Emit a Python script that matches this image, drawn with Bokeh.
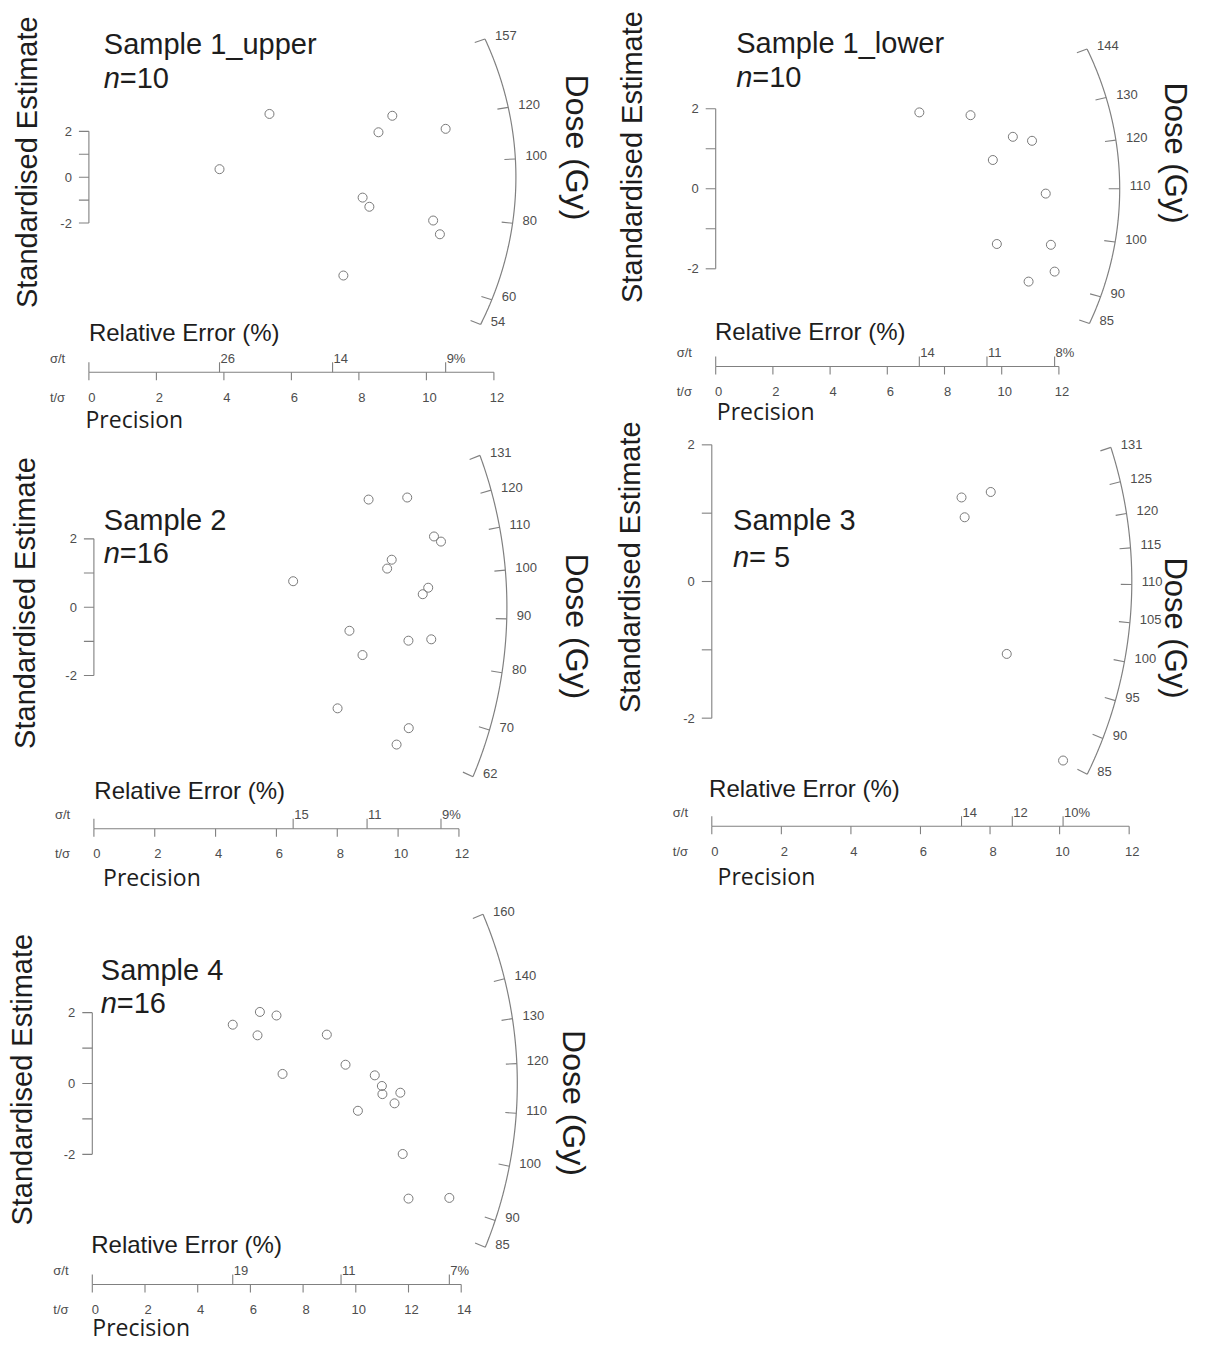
import numpy as np
from bokeh.plotting import figure
from bokeh.models import Range1d
from bokeh.core.properties import value
from bokeh.embed import file_html
from bokeh.resources import INLINE

# ---------------- data ----------------
sample_names = ["Sample 1_upper", "Sample 1_lower", "Sample 2", "Sample 3", "Sample 4"]
n_labels = ["=10", "=10", "=16", "= 5", "=16"]

s1u_precision = [3.87, 5.35, 8.58, 8.99, 10.57, 8.11, 8.31, 10.20, 10.40, 7.54]
s1u_std_est = [0.35, 2.76, 1.96, 2.68, 2.11, -0.89, -1.29, -1.89, -2.49, -4.29]
s1u_dose_ticks = [54, 60, 80, 100, 120, 157]
s1u_central_dose = 93.9
s1u_rel_err_labels = ["26", "14", "9%"]

s1l_precision = [7.12, 8.91, 10.39, 11.06, 9.69, 11.54, 9.83, 11.72, 11.85, 10.94]
s1l_std_est = [1.91, 1.84, 1.30, 1.20, 0.72, -0.12, -1.38, -1.40, -2.07, -2.32]
s1l_dose_ticks = [85, 90, 100, 110, 120, 130, 144]
s1l_central_dose = 110.0
s1l_rel_err_labels = ["14", "11", "8%"]

s2_precision = [9.03, 10.30, 11.18, 11.41, 9.79, 9.64, 6.55, 10.99, 10.81, 8.40,
                10.34, 11.09, 8.83, 8.01, 10.35, 9.95]
s2_std_est = [3.15, 3.21, 2.07, 1.92, 1.39, 1.13, 0.76, 0.57, 0.38, -0.69,
              -0.98, -0.94, -1.40, -2.96, -3.54, -4.02]
s2_dose_ticks = [62, 70, 80, 90, 100, 110, 120, 131]
s2_central_dose = 92.3
s2_rel_err_labels = ["15", "11", "9%"]

s3_precision = [7.18, 8.02, 7.27, 8.48, 10.10]
s3_std_est = [1.23, 1.31, 0.94, -1.06, -2.62]
s3_dose_ticks = [85, 90, 95, 100, 105, 110, 115, 120, 125, 131]
s3_central_dose = 110.4
s3_rel_err_labels = ["14", "12", "10%"]

s4_precision = [5.33, 6.36, 6.99, 6.27, 8.90, 7.22, 9.61, 10.72, 10.99, 11.01,
                11.69, 11.47, 10.08, 11.78, 12.00, 13.55]
s4_std_est = [1.66, 2.02, 1.92, 1.36, 1.38, 0.27, 0.53, 0.23, -0.07, -0.30,
              -0.26, -0.56, -0.77, -1.99, -3.25, -3.23]
s4_dose_ticks = [85, 90, 100, 110, 120, 130, 140, 160]
s4_central_dose = 115.9
s4_rel_err_labels = ["19", "11", "7%"]

precision_ticks_12 = [0, 2, 4, 6, 8, 10, 12]
precision_ticks_14 = [0, 2, 4, 6, 8, 10, 12, 14]
std_est_ticks = [-2, -1, 0, 1, 2]

# ---------------- layout (picture pixels; text positions are visual centres) ----------------
W, H = 1192, 1342
PX0, PY0 = 0, 0

LAYOUT = {
    "A": dict(Xo=88.4, Yo=176.7, sx=33.75, sz=22.92, Rx=427, Ry=370, axisY=371.7,
              title=(103.3, 43.9), n=(103.3, 77.9), ylab=(26.8, 161.7),
              dlab=(576.0, 147.0, "32px"), rel=(88.4, 332.4), prec=(85.0, 418.3)),
    "B": dict(Xo=715.2, Yo=188.3, sx=28.6, sz=40.0, Rx=404, Ry=355, axisY=366.0,
              title=(735.7, 42.9), n=(735.7, 76.9), ylab=(631.0, 156.5),
              dlab=(1174.5, 152.5, "31px"), rel=(714.4, 330.7), prec=(716.3, 410.1)),
    "C": dict(Xo=93.4, Yo=606.7, sx=30.42, sz=34.17, Rx=413, Ry=427, axisY=828.3,
              title=(103.3, 519.6), n=(103.3, 552.9), ylab=(24.9, 602.5),
              dlab=(576.0, 625.8, "32px"), rel=(93.8, 789.7), prec=(102.6, 876.8)),
    "D": dict(Xo=711.3, Yo=581.0, sx=34.78, sz=68.33, Rx=420, Ry=430, axisY=825.7,
              title=(732.6, 519.6), n=(732.6, 556.3), ylab=(629.0, 566.7),
              dlab=(1174.5, 627.5, "31px"), rel=(708.6, 788.1), prec=(717.1, 875.8)),
    "E": dict(Xo=91.8, Yo=1083.0, sx=26.35, sz=35.42, Rx=425, Ry=430, axisY=1284.0,
              title=(100.3, 969.6), n=(100.3, 1002.9), ylab=(21.0, 1079.2),
              dlab=(573.1, 1102.5, "32px"), rel=(90.7, 1244.0), prec=(91.8, 1326.0)),
}

FONT = value("Liberation Sans")
TXT = "#1d1d1d"
GREY_TXT = "#4d4d4d"
GREY_LN = "#808080"
GREY_PT = "#7a7a7a"
SMALL = "13px"

p = figure(width=W, height=H,
           x_range=Range1d(PX0, PX0 + W), y_range=Range1d(-(PY0 + H), -PY0),
           x_axis_type=None, y_axis_type=None, toolbar_location=None,
           output_backend="svg", min_border=0, outline_line_color=None)
p.background_fill_color = "white"
p.border_fill_color = "white"

ex, ey = {}, {}
for k, L in LAYOUT.items():
    ex[k] = Range1d((PX0 - L["Xo"]) / L["sx"], (PX0 + W - L["Xo"]) / L["sx"])
    ey[k] = Range1d((L["Yo"] - (PY0 + H)) / L["sz"], (L["Yo"] - PY0) / L["sz"])
p.extra_x_ranges = ex
p.extra_y_ranges = ey


def arc_xy(m, sx, sz, Rx, Ry):
    m = np.asarray(m, dtype=float)
    t = 1.0 / np.sqrt((sx / Rx) ** 2 + (sz * m / Ry) ** 2)
    return t, t * m


def small_text(x, y, text, **kw):
    p.text(x=x, y=y, text=text, text_font=FONT, text_font_size=SMALL,
           text_color=GREY_TXT, **kw)


def big_text(x, y, text, size, font=FONT, **kw):
    p.text(x=[x], y=[-y], text=[text], text_font=font, text_font_size=size,
           text_color=TXT, text_baseline="middle", **kw)


def draw_panel(key, name, nlab, prec, est, dose_ticks, central, rel_labels, prec_ticks):
    L = LAYOUT[key]
    sx, sz, Xo, Yo = L["sx"], L["sz"], L["Xo"], L["Yo"]
    kw = dict(x_range_name=key, y_range_name=key)
    za = (Yo - L["axisY"]) / sz
    x0 = prec_ticks[0]
    zt = std_est_ticks

    # standardised estimate axis
    p.segment(x0=[x0], y0=[min(zt)], x1=[x0], y1=[max(zt)], line_color=GREY_LN, line_width=1.1, **kw)
    p.segment(x0=[x0] * len(zt), y0=zt, x1=[x0 - 10 / sx] * len(zt), y1=zt,
              line_color=GREY_LN, line_width=1.1, **kw)
    lab_z = [z for z in zt if z % 2 == 0]
    small_text([x0] * len(lab_z), lab_z, [str(z) for z in lab_z], x_offset=-17,
               text_align="right", text_baseline="middle", **kw)

    # precision axis
    n = len(prec_ticks)
    p.segment(x0=[prec_ticks[0]], y0=[za], x1=[prec_ticks[-1]], y1=[za],
              line_color=GREY_LN, line_width=1.1, **kw)
    p.segment(x0=prec_ticks, y0=[za] * n, x1=prec_ticks, y1=[za - 8 / sz] * n,
              line_color=GREY_LN, line_width=1.1, **kw)
    small_text(prec_ticks, [za] * n, [str(t) for t in prec_ticks], x_offset=3, y_offset=25,
               text_align="center", text_baseline="middle", **kw)

    # relative error ticks (min, mid, max precision)
    pmin, pmax = min(prec), max(prec)
    rpos = [pmin, (pmin + pmax) / 2.0, pmax]
    p.segment(x0=[x0] + rpos, y0=[za] * 4, x1=[x0] + rpos, y1=[za + 10 / sz] * 4,
              line_color=GREY_LN, line_width=1.1, **kw)
    small_text(rpos, [za] * 3, rel_labels, x_offset=1, y_offset=-14,
               text_align="left", text_baseline="middle", **kw)

    # radial dose axis
    z0 = np.log(central)
    mm = np.linspace(np.log(min(dose_ticks)) - z0, np.log(max(dose_ticks)) - z0, 240)
    axx, azz = arc_xy(mm, sx, sz, L["Rx"], L["Ry"])
    p.line(axx, azz, line_color=GREY_LN, line_width=1.2, **kw)
    mt = np.log(np.asarray(dose_ticks, dtype=float)) - z0
    tx, tz = arc_xy(mt, sx, sz, L["Rx"], L["Ry"])
    kk = 11.0 / L["Rx"]
    p.segment(x0=tx, y0=tz, x1=tx * (1 - kk), y1=tz * (1 - kk),
              line_color=GREY_LN, line_width=1.1, **kw)
    small_text(list(tx), list(tz), [str(d) for d in dose_ticks], x_offset=10, y_offset=-3,
               text_align="left", text_baseline="middle", **kw)

    # data points
    p.scatter(prec, est, marker="circle", size=9, fill_color=None,
              line_color=GREY_PT, line_width=1.0, **kw)

    # texts in picture coordinates
    tX, tY = L["title"]
    big_text(tX, tY, name, "29px", text_align="left")
    nX, nY = L["n"]
    big_text(nX, nY, "n", "29px", text_align="left", text_font_style="italic")
    big_text(nX, nY, nlab, "29px", text_align="left", x_offset=16)
    yX, yY = L["ylab"]
    big_text(yX, yY, "Standardised Estimate", "29px", text_align="center", angle=np.pi / 2)
    dX, dY, dS = L["dlab"]
    big_text(dX, dY, "Dose (Gy)", dS, text_align="center", angle=-np.pi / 2)
    rX, rY = L["rel"]
    big_text(rX, rY, "Relative Error (%)", "24px", text_align="left")
    small_text([Xo - 39], [-(L["axisY"] - 14)], ["σ/t"], text_align="left", text_baseline="middle")
    small_text([Xo - 39], [-(L["axisY"] + 25)], ["t/σ"], text_align="left", text_baseline="middle")
    pX, pY = L["prec"]
    big_text(pX, pY, "Precision", "23px", font=value("Open Sans"), text_align="left")


draw_panel("A", sample_names[0], n_labels[0], s1u_precision, s1u_std_est, s1u_dose_ticks,
           s1u_central_dose, s1u_rel_err_labels, precision_ticks_12)
draw_panel("B", sample_names[1], n_labels[1], s1l_precision, s1l_std_est, s1l_dose_ticks,
           s1l_central_dose, s1l_rel_err_labels, precision_ticks_12)
draw_panel("C", sample_names[2], n_labels[2], s2_precision, s2_std_est, s2_dose_ticks,
           s2_central_dose, s2_rel_err_labels, precision_ticks_12)
draw_panel("D", sample_names[3], n_labels[3], s3_precision, s3_std_est, s3_dose_ticks,
           s3_central_dose, s3_rel_err_labels, precision_ticks_12)
draw_panel("E", sample_names[4], n_labels[4], s4_precision, s4_std_est, s4_dose_ticks,
           s4_central_dose, s4_rel_err_labels, precision_ticks_14)

open("out.html", "w").write(file_html(p, INLINE))
